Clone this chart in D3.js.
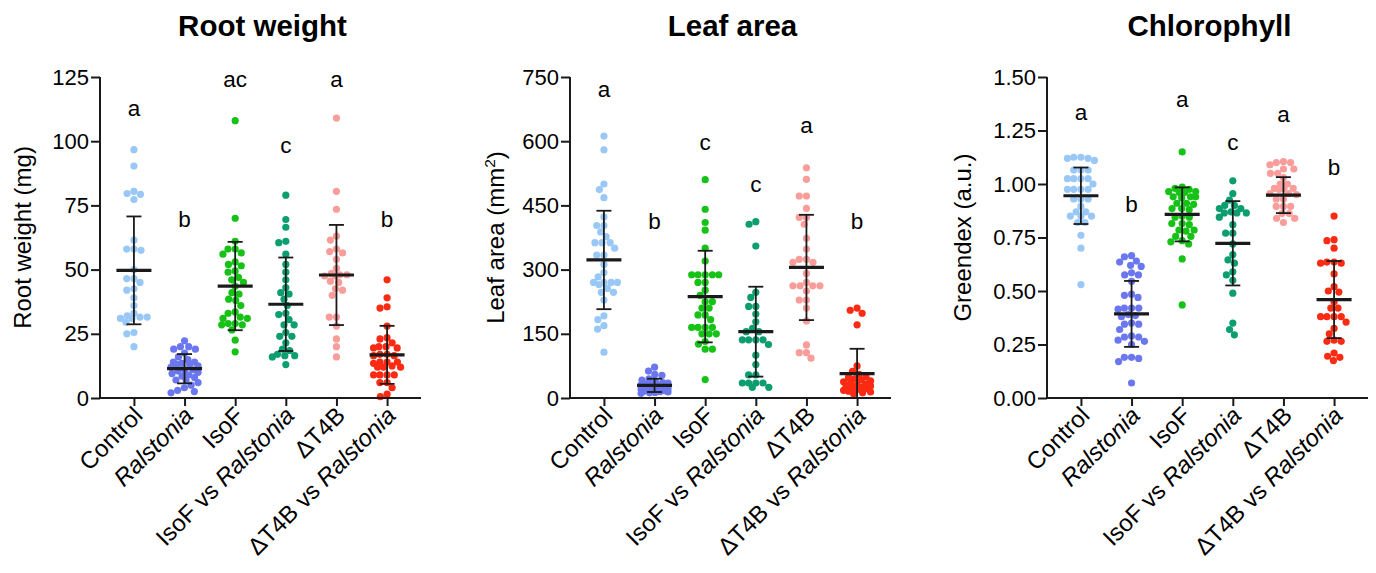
<!DOCTYPE html>
<html><head><meta charset="utf-8">
<script src="https://cdn.jsdelivr.net/npm/d3@7"></script>
<style>body{margin:0;background:#fff}svg{font-family:"Liberation Sans",Arial,Helvetica,sans-serif}</style>
</head><body><svg id="c" width="1376" height="573"></svg>
<script>
const categories = ["Control","Ralstonia","IsoF","IsoF vs Ralstonia","ΔT4B","ΔT4B vs Ralstonia"];
const groupColors = ["#9ac8f6","#6b77ee","#16c216","#0c9e6e","#f99d9b","#fb2a12"];

// Root weight (mg)
const rootControl = [96.7,90.3,80.5,79.6,79.3,77.3,61.5,58,58,57.5,50,46.5,46.5,45,42.5,42,39,36,33,32,31.5,31.5,31,31,29.5,25.5,25,20];
const rootRalstonia = [22.3,20,20,19,19,17.5,16,15,14,14,13.5,13,13,12.5,12,11,11,10.5,10,9.5,9,8.5,8,7,7,6,5,4,3,2.5,2];
const rootIsoF = [108,70,61,58,58,56.5,56,53,52,51.5,49.5,49,47,46,45,43.5,41,40.5,38.5,38,36,33.5,33,31.5,31,31,29,29,28.5,28.5,26.5,22.5,18];
const rootIsoFvsR = [79,69.5,66.5,61,60.5,56,52,49,46,43,41,40.5,38.5,36,33,32.5,30.5,28.5,28.5,25.5,24,24,21.5,19,18.5,17,16.5,16.5,16,13];
const rootT4B = [109,80.5,73.5,63,61.5,58,57,56.5,54,50.5,48.5,48,48,47.5,47.5,45.5,45,42.5,42,40,31.5,31.5,28,23,20,16];
const rootT4BvsR = [46,39,35.5,35,28,23.5,23,21.5,20,20,19.5,19.5,17,17,16.5,16.5,14,14,14,13.5,12.5,12,12,12,9,9,9,9,6,6,4,1.5,0.5];
const rootMean = [49.7,11.4,43.6,36.5,47.9,16.8];
const rootSD = [21,5.7,17.2,18.2,19.5,11.3];
const rootLetters = ["a","b","ac","c","a","b"];
const rootLetterY = [110,66.5,121,95.3,121,66.5];
const rootTicks = [0,25,50,75,100,125];

// Leaf area (mm2)
const leafControl = [612,580,500,487,468,423,403,403,388,377,363,363,363,350,334,334,312,293,283,270,270,270,270,265,256,247,247,229,192,183,169,161,107];
const leafRalstonia = [72,63,55,53,45,42,38,36,35,33,32,30,28,27,26,25,24,22,22,21,20,19,18,17,16,15,14,13,12,11];
const leafIsoF = [510,441,410,392,350,320,288,288,288,288,288,270,270,252,240,225,225,210,210,194,194,183,165,165,165,165,150,150,150,132,126,114,114,43];
const leafIsoFvsR = [412,406,355,247,235,214,214,196,178,163,155,155,136,136,136,136,125,100,78,54,54,35,35,35,35,25,25];
const leafT4B = [538,511,472,472,443,422,422,406,373,348,324,324,317,317,291,270,262,262,262,262,250,229,229,210,180,124,106,106,93];
const leafT4BvsR = [210,205,198,171,75,62,55,50,48,45,42,40,38,35,33,30,28,27,25,24,22,20,18,16,14,12,10];
const leafMean = [322.5,29.5,237,155,305,57];
const leafSD = [115,15.5,107,105,123,58];
const leafLetters = ["a","b","c","c","a","b"];
const leafLetterY = [703,395,579,481,619,395];
const leafTicks = [0,150,300,450,600,750];

// Chlorophyll (Greendex)
const chlControl = [1.125,1.125,1.12,1.12,1.11,1.065,1.065,1.065,1.025,1.025,1.025,1.025,1.0,0.975,0.975,0.975,0.975,0.93,0.93,0.93,0.895,0.87,0.87,0.85,0.85,0.85,0.82,0.82,0.76,0.70,0.53];
const chlRalstonia = [0.665,0.66,0.64,0.635,0.62,0.615,0.585,0.575,0.575,0.545,0.485,0.48,0.47,0.42,0.42,0.42,0.415,0.39,0.385,0.38,0.35,0.345,0.345,0.32,0.29,0.285,0.285,0.27,0.265,0.25,0.19,0.19,0.185,0.17,0.07];
const chlIsoF = [1.15,0.985,0.98,0.975,0.965,0.965,0.96,0.96,0.94,0.94,0.94,0.935,0.91,0.91,0.905,0.885,0.885,0.88,0.85,0.845,0.845,0.815,0.815,0.81,0.785,0.785,0.78,0.755,0.755,0.735,0.73,0.72,0.65,0.435];
const chlIsoFvsR = [1.015,0.955,0.925,0.9,0.9,0.885,0.885,0.87,0.865,0.865,0.865,0.845,0.81,0.77,0.77,0.72,0.67,0.645,0.63,0.59,0.575,0.55,0.49,0.35,0.32,0.295];
const chlT4B = [1.105,1.10,1.10,1.09,1.07,1.07,1.05,1.05,1.03,1.0,1.0,0.98,0.98,0.98,0.975,0.955,0.955,0.95,0.93,0.93,0.895,0.895,0.895,0.862,0.862,0.84,0.84,0.82];
const chlT4BvsR = [0.85,0.74,0.735,0.70,0.635,0.635,0.63,0.63,0.58,0.52,0.5,0.495,0.45,0.42,0.42,0.38,0.38,0.38,0.38,0.355,0.325,0.3,0.27,0.265,0.265,0.21,0.195,0.19,0.175];
const chlMean = [0.945,0.393,0.858,0.723,0.948,0.46];
const chlSD = [0.132,0.154,0.126,0.197,0.084,0.18];
const chlLetters = ["a","b","a","c","a","b"];
const chlLetterY = [1.30,0.869,1.36,1.159,1.29,1.042];
const chlTicks = [0,0.25,0.5,0.75,1.0,1.25,1.5];

const panels = [
  {title:"Root weight", ylabel:["Root weight (mg)"], x0:100, ylabX:31, max:125, ticks:rootTicks, fmt:d3.format("d"),
   series:[rootControl,rootRalstonia,rootIsoF,rootIsoFvsR,rootT4B,rootT4BvsR], mean:rootMean, sd:rootSD, letters:rootLetters, letterY:rootLetterY},
  {title:"Leaf area", ylabel:["Leaf area (mm","2",")"], x0:570, ylabX:504, max:750, ticks:leafTicks, fmt:d3.format("d"),
   series:[leafControl,leafRalstonia,leafIsoF,leafIsoFvsR,leafT4B,leafT4BvsR], mean:leafMean, sd:leafSD, letters:leafLetters, letterY:leafLetterY},
  {title:"Chlorophyll", ylabel:["Greendex (a.u.)"], x0:1047, ylabX:971, max:1.5, ticks:chlTicks, fmt:d3.format(".2f"),
   series:[chlControl,chlRalstonia,chlIsoF,chlIsoFvsR,chlT4B,chlT4BvsR], mean:chlMean, sd:chlSD, letters:chlLetters, letterY:chlLetterY}
];

const svg = d3.select("#c");
const yTop = 77, yBot = 398, plotW = 321, R = 3.6, W = 13.5;
const ink = "#1a1a1a";

function swarm(vals, y) {
  const D = 2*R;
  const pts = vals.map(v => ({v, y: y(v), x: 0})).sort((a,b) => a.y - b.y);
  const placed = [];
  for (const p of pts) {
    const near = placed.filter(q => Math.abs(q.y - p.y) < D);
    const cands = [0];
    for (const q of near) { const dx = Math.sqrt(D*D - (q.y-p.y)**2); cands.push(q.x+dx, q.x-dx); }
    cands.sort((a,b) => Math.abs(a)-Math.abs(b) || a-b);
    let done = false;
    for (const c of cands) {
      if (Math.abs(c) > W + 0.01) continue;
      if (near.every(q => (q.x-c)**2 + (q.y-p.y)**2 >= D*D - 0.01)) { p.x = c; done = true; break; }
    }
    if (!done) {
      let best = 0, bestD = -1;
      for (let c = -W; c <= W + 0.001; c += 0.5) {
        const md = d3.min(near, q => (q.x-c)**2 + (q.y-p.y)**2);
        if (md > bestD + 1e-6) { bestD = md; best = c; }
      }
      p.x = best;
    }
    placed.push(p);
  }
  return placed;
}

panels.forEach(P => {
  const g = svg.append("g");
  const x = d3.scalePoint().domain(categories).range([P.x0, P.x0 + plotW]).padding(0.67);
  const y = d3.scaleLinear().domain([0, P.max]).range([yBot, yTop]);

  g.append("text").attr("x", P.x0 + plotW/2 + 2).attr("y", 36).attr("text-anchor","middle")
    .attr("font-size", 29.5).attr("font-weight","bold").attr("fill","#000").text(P.title);

  const yl = g.append("text").attr("transform", `translate(${P.ylabX},${(yTop+yBot)/2}) rotate(-90)`)
    .attr("text-anchor","middle").attr("font-size", 24).attr("fill","#000");
  if (P.ylabel.length === 1) yl.text(P.ylabel[0]);
  else {
    yl.append("tspan").text(P.ylabel[0]);
    yl.append("tspan").attr("font-size", 15.5).attr("dy", -9).text(P.ylabel[1]);
    yl.append("tspan").attr("dy", 9).text(P.ylabel[2]);
  }

  P.series.forEach((vals, i) => {
    const cx = x(categories[i]);
    g.append("g").selectAll("circle").data(swarm(vals, y)).join("circle")
      .attr("cx", d => cx + d.x).attr("cy", d => d.y).attr("r", R).attr("fill", groupColors[i]);
  });

  P.mean.forEach((m, i) => {
    const cx = x(categories[i]);
    const s = P.sd[i];
    const lo = Math.max(0, m - s), hi = m + s;
    g.append("line").attr("x1", cx).attr("x2", cx).attr("y1", y(lo)).attr("y2", y(hi)).attr("stroke", ink).attr("stroke-width", 1.8);
    [hi, lo].forEach(v => {
      if (m - s < 0 && v === lo) return;
      g.append("line").attr("x1", cx-7.5).attr("x2", cx+7.5).attr("y1", y(v)).attr("y2", y(v)).attr("stroke", ink).attr("stroke-width", 1.8);
    });
    g.append("line").attr("x1", cx-17.5).attr("x2", cx+17.5).attr("y1", y(m)).attr("y2", y(m)).attr("stroke", ink).attr("stroke-width", 3.2);
  });

  P.letters.forEach((t, i) => {
    g.append("text").attr("x", x(categories[i])).attr("y", y(P.letterY[i])).attr("text-anchor","middle")
      .attr("font-size", 22.5).attr("fill","#000").text(t);
  });

  const ya = g.append("g").attr("transform", `translate(${P.x0},0)`)
    .call(d3.axisLeft(y).tickValues(P.ticks).tickFormat(P.fmt).tickSize(9).tickSizeOuter(0).tickPadding(2));
  const xa = g.append("g").attr("transform", `translate(0,${yBot})`)
    .call(d3.axisBottom(x).tickSize(8).tickSizeOuter(0).tickFormat(""));
  [ya, xa].forEach(a => {
    a.select(".domain").attr("stroke", ink).attr("stroke-width", 2);
    a.selectAll(".tick line").attr("stroke", ink).attr("stroke-width", 2);
  });
  ya.selectAll(".tick text").attr("font-size", 22).attr("font-family", '"Liberation Sans",Arial,sans-serif').attr("fill","#000");
  ya.select(".domain").attr("d", `M0,${yTop}V${yBot+1}`);
  xa.select(".domain").attr("d", `M${P.x0-1},0H${P.x0+plotW}`);

  categories.forEach(c => {
    const t = g.append("text").attr("transform", `translate(${x(c)+10},${yBot+19}) rotate(-45)`)
      .attr("text-anchor","end").attr("font-size", 24).attr("fill","#000");
    const parts = c.split("Ralstonia");
    if (parts.length === 1) t.text(c);
    else {
      if (parts[0]) t.append("tspan").text(parts[0]);
      t.append("tspan").attr("font-style","italic").text("Ralstonia");
    }
  });
});
</script></body></html>
